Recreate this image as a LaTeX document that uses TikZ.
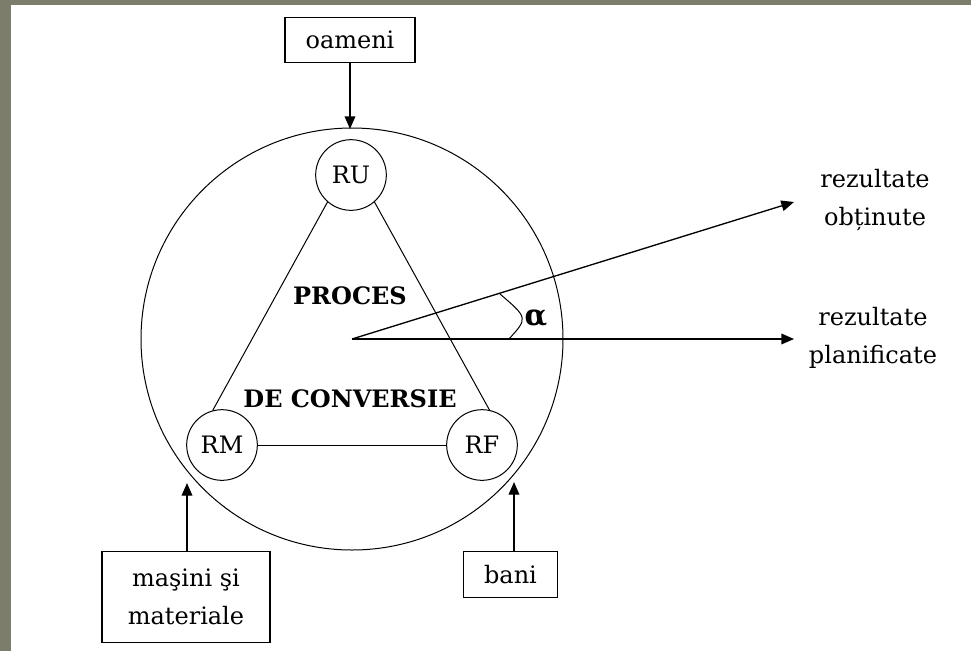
\documentclass[tikz,border=0pt]{standalone}
\usepackage{fontspec}
\setmainfont{DejaVu Serif}
\usetikzlibrary{arrows.meta}
\definecolor{frame}{RGB}{125,125,108}
\tikzset{
  txt/.style={font=\fontsize{18}{28.5}\selectfont, inner sep=0pt},
  bx/.style={draw, line width=0.9pt, inner sep=0pt, align=center, font=\fontsize{18}{28.5}\selectfont},
  res/.style={circle, draw, line width=0.75pt, minimum size=53pt, inner sep=0pt, font=\fontsize{18}{21}\selectfont},
  thin/.style={line width=0.75pt},
  arr/.style={line width=1pt, -{Triangle[length=9.5pt,width=8pt]}},
}
\begin{document}
\begin{tikzpicture}[x=0.75pt,y=-0.75pt]
\useasboundingbox (0,0) rectangle (971,651);
\fill[frame] (0,0) rectangle (971,651);
\fill[white] (11,5) rectangle (971,651);

% big circle
\node[circle, draw, thin, minimum size=316.5pt, inner sep=0pt] (big) at (352,339) {};

% resource circles
\node[res] (RU) at (351,175) {RU};
\node[res] (RM) at (222,445) {RM};
\node[res] (RF) at (482,445) {RF};
\draw[thin] (RU.-131) -- (RM.105);
\draw[thin] (RU.-49) -- (RF.78);
\draw[thin] (RM) -- (RF);

% central text
\node[txt, font=\fontsize{18}{21}\selectfont\bfseries] (proc) at (350,296) {PROCES};
\node[txt, font=\fontsize{18}{21}\selectfont\bfseries] (conv) at (350,399) {DE CONVERSIE};

% input boxes
\node[bx, minimum width=97.5pt, minimum height=33.75pt] (oam) at (350,40) {oameni};
\node[bx, minimum width=126pt, minimum height=68pt] (mas) at (186,597) {maşini şi\\materiale};
\node[bx, minimum width=71pt, minimum height=35pt] (bani) at (510.5,574.5) {bani};

\coordinate (oTip) at (350,129);
\coordinate (mTip) at (187,483);
\coordinate (bTip) at (514,482);
\draw[arr] (oam.south) -- (oTip);
\draw[arr] (mas.north -| mTip) -- (mTip);
\draw[arr] (bani.north -| bTip) -- (bTip);

% output rays
\coordinate (uTip) at (794,202);
\coordinate (pTip) at (794,339);
\draw[arr] (big.center) -- (uTip);
\draw[arr] (big.center) -- (pTip);

% angle mark
\draw[thin] (509,339) .. controls (528,318) .. (500,294);
\node[txt, font=\fontsize{22}{24}\selectfont\bfseries] (alpha) at (536,318) {α};

% output labels
\node[txt, align=center] (obt) at (875,200) {rezultate\\obținute};
\node[txt, align=center] (plan) at (873,338) {rezultate\\planificate};
\end{tikzpicture}
\end{document}
